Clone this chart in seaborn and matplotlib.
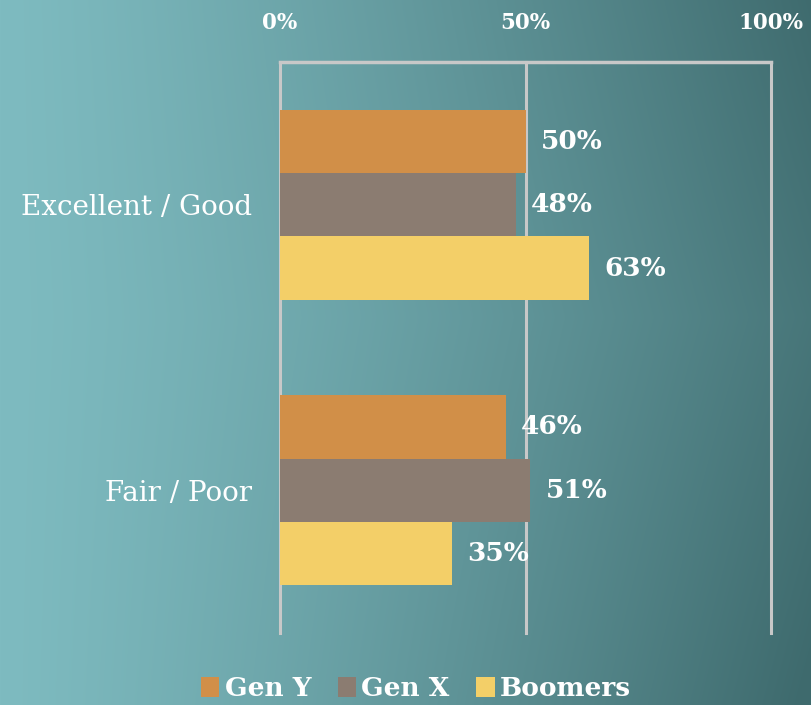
import matplotlib
matplotlib.use('Agg')
import matplotlib.pyplot as plt
import seaborn as sns
import numpy as np
import pandas as pd
from matplotlib.colors import to_rgb
from matplotlib.patches import Patch

# Data
ratings = ['Excellent / Good', 'Fair / Poor']
generations = ['Gen Y', 'Gen X', 'Boomers']
genY = [50, 46]
genX = [48, 51]
boomers = [63, 35]
xticks = [0, 50, 100]

genColours = {'Gen Y': '#d18f48', 'Gen X': '#8b7c71', 'Boomers': '#f3cf68'}

df = pd.DataFrame({
    'rating': ratings * 3,
    'generation': ['Gen Y'] * 2 + ['Gen X'] * 2 + ['Boomers'] * 2,
    'share': genY + genX + boomers,
})

W, H = 812, 705
fig = plt.figure(figsize=(W / 100, H / 100), dpi=100)

# teal gradient background, light on the left, dark on the right
bg = fig.add_axes([0, 0, 1, 1])
xx, yy = np.meshgrid(np.linspace(0, 1, W), np.linspace(0, 1, H))
light = np.array(to_rgb('#7ebbc0'))
dark = np.array(to_rgb('#3e6a6d'))
t = np.clip(0.85 * xx ** 1.3 + 0.15 * np.abs(yy - 0.45) * xx * 2, 0, 1)
grad = light[None, None, :] * (1 - t[..., None]) + dark[None, None, :] * t[..., None]
bg.imshow(grad, aspect='auto', extent=[0, 1, 0, 1], origin='upper')
bg.axis('off')

ax = fig.add_axes([280 / W, 1 - 633 / H, 491 / W, 571 / H])
ax.patch.set_alpha(0)

sns.barplot(data=df, y='rating', x='share', hue='generation', orient='h',
            order=ratings, hue_order=generations, palette=genColours,
            width=0.665, saturation=1, legend=False, ax=ax, zorder=3)

ax.set_xlim(0, 100)
ax.set_ylim(1.5, -0.5)
ax.set_xticks(xticks)
ax.set_xticklabels([f'{v}%' for v in xticks])
ax.xaxis.tick_top()
ax.tick_params(axis='x', length=0, pad=20, labelcolor='white', labelsize=15.5)
ax.tick_params(axis='y', length=0, pad=20, labelcolor='white', labelsize=20)
for lab in ax.get_xticklabels():
    lab.set_fontfamily('DejaVu Serif')
    lab.set_fontweight('bold')
for lab in ax.get_yticklabels():
    lab.set_fontfamily('DejaVu Serif')
ax.set_xlabel('')
ax.set_ylabel('')

ax.grid(axis='x', color='#c8c8c8', lw=2.2, zorder=0)
ax.grid(axis='y', visible=False)
for gl in ax.get_xgridlines():
    gl.set_clip_on(False)
for side in ['left', 'right', 'bottom']:
    ax.spines[side].set_visible(False)
ax.spines['top'].set_color('#c8c8c8')
ax.spines['top'].set_linewidth(2.5)

for cont in ax.containers:
    for bar in cont:
        w = bar.get_width()
        ax.annotate(f'{w:.0f}%', (w, bar.get_y() + bar.get_height() / 2),
                    xytext=(11, 0), textcoords='offset points', va='center',
                    ha='left', color='white', fontsize=19, fontweight='bold',
                    fontfamily='DejaVu Serif')

handles = [Patch(facecolor=genColours[g], edgecolor='none') for g in generations]
fig.legend(handles, generations, loc='center', bbox_to_anchor=(416 / W, 1 - 689 / H),
           ncol=3, frameon=False, handlelength=0.7, handleheight=0.8,
           handletextpad=0.2, columnspacing=1.0,
           prop={'family': 'DejaVu Serif', 'weight': 'bold', 'size': 19},
           labelcolor='white')

fig.savefig('out.png', dpi=100)
